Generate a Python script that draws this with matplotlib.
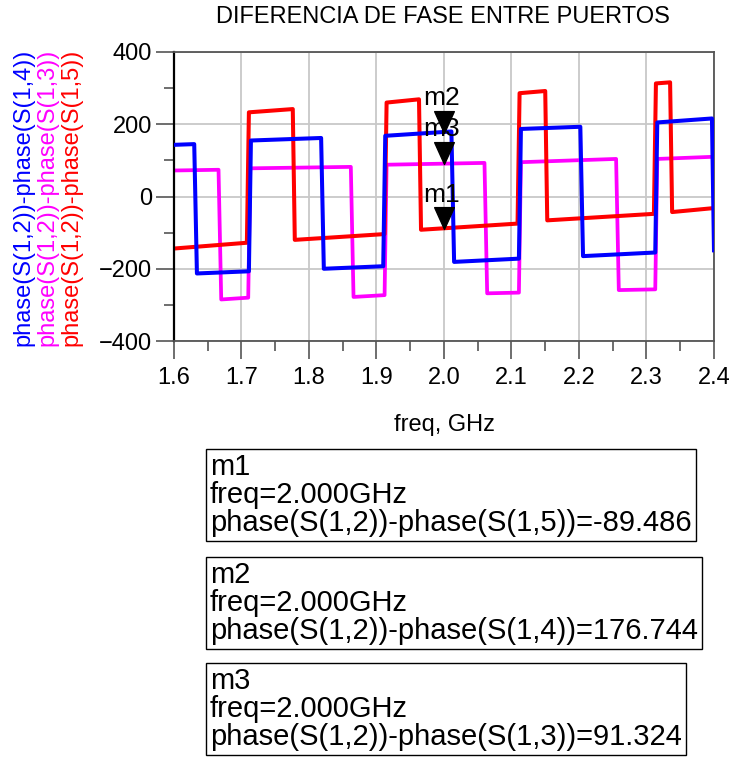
import matplotlib
matplotlib.use('Agg')
from matplotlib import pyplot as plt
from matplotlib.path import Path
import numpy as np

plt.rcParams['font.family'] = ['Liberation Sans', 'DejaVu Sans']

# vertices of each trace (freq in GHz, phase in degrees)
f_14 = [1.600, 1.630, 1.634, 1.711, 1.714, 1.818, 1.822, 1.910, 1.913, 2.011,
        2.015, 2.111, 2.114, 2.202, 2.206, 2.313, 2.316, 2.397, 2.400]
p_14 = [143, 145, -213, -207, 155, 162, -200, -193, 168, 180,
        -181, -172, 187, 193, -165, -155, 205, 216, -149]

f_13 = [1.600, 1.666, 1.670, 1.710, 1.713, 1.862, 1.866, 1.912, 1.915, 2.060,
        2.064, 2.111, 2.114, 2.255, 2.259, 2.313, 2.316, 2.400]
p_13 = [72, 74, -285, -280, 78, 82, -278, -273, 88, 93,
        -268, -266, 95, 104, -259, -257, 104, 110]

f_15 = [1.600, 1.708, 1.711, 1.776, 1.779, 1.912, 1.915, 1.963, 1.966, 2.109,
        2.112, 2.150, 2.153, 2.311, 2.314, 2.335, 2.338, 2.400]
p_15 = [-144, -128, 233, 242, -120, -104, 260, 269, -92, -75,
        286, 292, -66, -48, 313, 316, -43, -32]

# markers
mk_names = ['m1', 'm2', 'm3']
mk_freq = [2.000, 2.000, 2.000]
mk_val = [-89.486, 176.744, 91.324]
mk_expr = ['phase(S(1,2))-phase(S(1,5))', 'phase(S(1,2))-phase(S(1,4))',
           'phase(S(1,2))-phase(S(1,3))']

fig = plt.figure(figsize=(7.35, 7.59), dpi=100)
ax = fig.add_axes([0.2367, 0.5507, 0.7347, 0.3808])

ax.plot(f_14, p_14, color='#0000ff', lw=2.9, zorder=3)
ax.plot(f_13, p_13, color='#ff00ff', lw=2.7, zorder=2)
ax.plot(f_15, p_15, color='#ff0000', lw=2.9, zorder=2.5)

# downward triangle with tip on the point
tri = Path([(-0.45, 1.0), (0.45, 1.0), (0.0, 0.0), (-0.45, 1.0)],
           [Path.MOVETO, Path.LINETO, Path.LINETO, Path.CLOSEPOLY])
for name, fx, v in zip(mk_names, mk_freq, mk_val):
    ax.plot([fx], [v], marker=tri, markersize=31.5, color='black',
            linestyle='none', zorder=5)
    ax.annotate(name, (fx, v), xytext=(-1.5, 16), textcoords='offset points',
                ha='center', va='bottom', fontsize=19, zorder=6)

ax.set_xlim(1.6, 2.4)
ax.set_ylim(-400, 400)
ax.set_xticks(np.arange(1.6, 2.41, 0.1))
ax.set_xticklabels(['1.6', '1.7', '1.8', '1.9', '2.0', '2.1', '2.2', '2.3', '2.4'])
ax.set_xticks(np.arange(1.65, 2.4, 0.1), minor=True)
ax.set_yticks([-400, -200, 0, 200, 400])
ax.set_yticks([-300, -100, 100, 300], minor=True)
ax.grid(True, which='major', color='#c8c8c8', lw=1.3)
ax.tick_params(which='major', length=13, width=1.2, color='#555555',
               labelsize=17, pad=3)
ax.tick_params(which='minor', length=7, width=1.2, color='#555555')
ax.tick_params(axis='x', pad=6)
for s in ['top', 'right', 'bottom']:
    ax.spines[s].set_color('#555555')
    ax.spines[s].set_linewidth(1.3)
ax.spines['left'].set_color('black')
ax.spines['left'].set_linewidth(1.6)

ax.set_xlabel('freq, GHz', fontsize=17, labelpad=18)
fig.text(0.603, 1 - 17 / 759, 'DIFERENCIA DE FASE ENTRE PUERTOS',
         ha='center', va='center', fontsize=17)

# stacked y labels
ylab_x = [23 / 735, 47.5 / 735, 71 / 735]
ylab_c = ['#0000ff', '#ff00ff', '#ff0000']
ylab_t = ['phase(S(1,2))-phase(S(1,4))', 'phase(S(1,2))-phase(S(1,3))',
          'phase(S(1,2))-phase(S(1,5))']
for x, c, t in zip(ylab_x, ylab_c, ylab_t):
    fig.text(x, 1 - 197 / 759, t, rotation=90, ha='center', va='center',
             color=c, fontsize=17)

# marker readout boxes
box_order = [0, 1, 2]
box_top = [453, 561, 667]
for i, top in zip(box_order, box_top):
    txt = '%s\nfreq=%.3fGHz\n%s=%.3f' % (mk_names[i], mk_freq[i], mk_expr[i], mk_val[i])
    fig.text(210 / 735, 1 - top / 759, txt, ha='left', va='top', fontsize=21,
             linespacing=1.0,
             bbox=dict(boxstyle='square,pad=0.15', fc='white', ec='black', lw=1.0))

fig.savefig('out.png', dpi=100)
